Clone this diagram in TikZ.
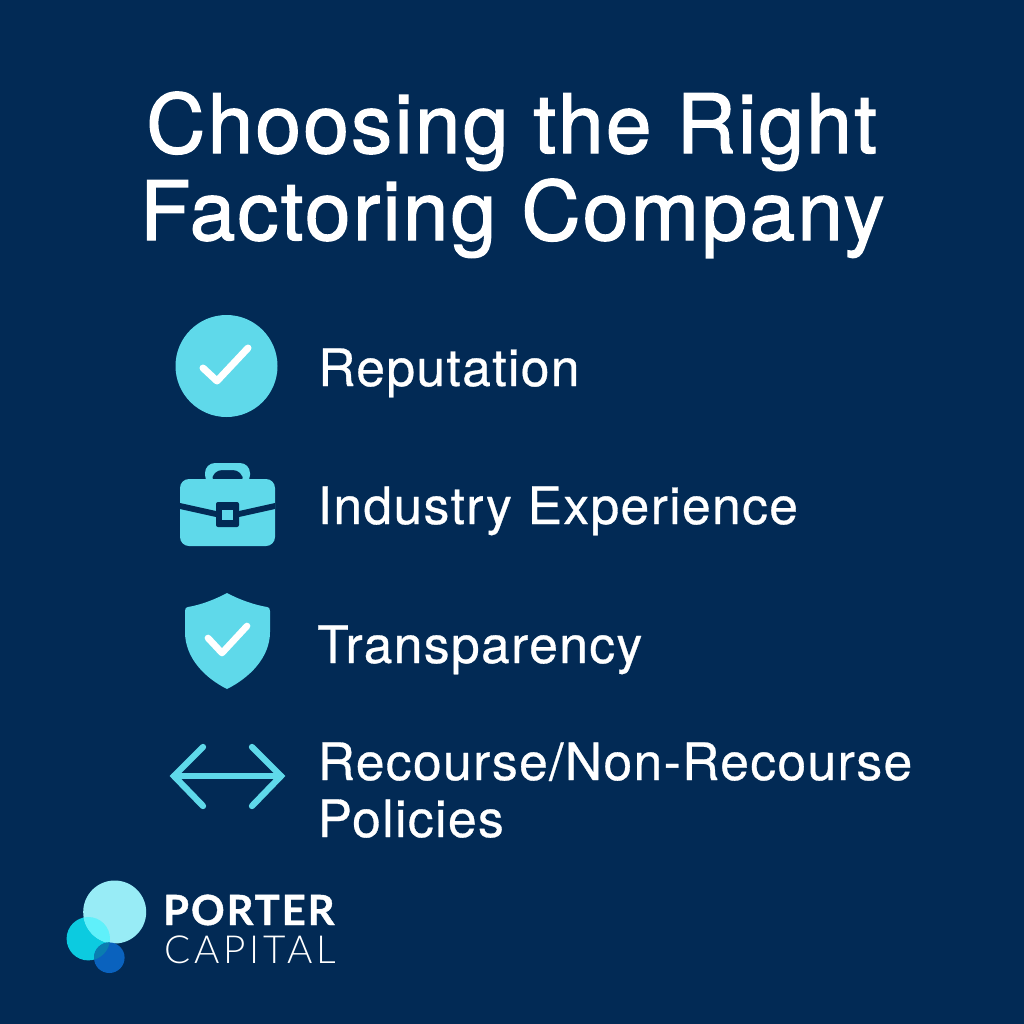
\documentclass[tikz,border=0pt]{standalone}
\usepackage{fontspec}
\setmainfont{TeX Gyre Heros}[FakeBold=1.5,LetterSpace=2.75]
\newfontfamily\itemfont{TeX Gyre Heros}[FakeBold=0.6,LetterSpace=2.7]
\newfontfamily\logolight{Lato Light}[LetterSpace=10]
\newfontfamily\logobold{Lato}[BoldFont=* Bold,BoldFeatures={FakeBold=1},LetterSpace=5]
\definecolor{bg}{HTML}{022A55}
\definecolor{ic}{HTML}{5FD9EA}
\definecolor{lgA}{HTML}{98ECF6}
\definecolor{lgB}{HTML}{0CCBE0}
\definecolor{lgC}{HTML}{0A62BE}
\definecolor{lgAB}{HTML}{5FF0FA}
\definecolor{lgBC}{HTML}{0A7DB0}
\tikzset{x=0.03cm,y=-0.03cm,
 title/.style={anchor=base west,inner sep=0,text=white,font=\fontsize{70}{70}\selectfont},
 item/.style={anchor=base west,inner sep=0,text=white,font=\itemfont\fontsize{44}{44}\selectfont},
 tick/.style={draw=white,line width=0.21cm,line cap=round,line join=round},
 arrowline/.style={draw=ic,line width=0.19cm,line cap=round,line join=miter}}
\begin{document}
\begin{tikzpicture}
\useasboundingbox (0,0) rectangle (1024,1024);
\fill[bg] (0,0) rectangle (1024,1024);
\node[title] (t1) at (146,153) {Choosing the Right};
\node[title] (t2) at (140,240) {Factoring Company};
\node[item] (i1) at (318,386) {Reputation};
\node[item] (i2) at (317.5,524) {Industry Experience};
\node[item] (i3) at (317,663) {Transparency};
\node[item] (i4) at (317.5,780) {Recourse/Non-Recourse};
\node[item] (i5) at (317.5,837) {Policies};
% check circle
\fill[ic] (226.5,366) circle (51);
\draw[tick] (203,368) -- (217,381) -- (248,348);
% briefcase
\fill[ic,even odd rule,rounded corners=0.3cm] (205,485) -- (205,463) -- (250,463) -- (250,485) -- cycle
  (212,485) -- (212,470) -- (243,470) -- (243,485) -- cycle;
\fill[ic,rounded corners=0.27cm] (180,479) rectangle (275,546);
\fill[bg] (180,503) -- (216,511) -- (239,511) -- (275,503) -- (275,509) -- (239,517) -- (216,517) -- (180,509) -- cycle;
\fill[bg,rounded corners=0.06cm] (216,502) rectangle (239,527);
\fill[ic] (222,510) rectangle (233,520);
% shield
\fill[ic] (227,593) .. controls (214,600) and (200,605) .. (188,607)
  .. controls (186,607.5) and (185,608) .. (185,611)
  -- (185,632) .. controls (185,658) and (205,678) .. (227,689)
  .. controls (249,678) and (270,658) .. (270,632) -- (270,611)
  .. controls (270,608) and (269,607.5) .. (267,607)
  .. controls (255,605) and (240,600) .. (227,593) -- cycle;
\draw[tick,line width=0.2cm] (208,638) -- (222,653) -- (247,626);
% arrow
\draw[arrowline] (203,747) -- (174,776) -- (203,806);
\draw[arrowline] (252,747) -- (281,776) -- (252,806);
\draw[arrowline] (174,776) -- (281,776);
% logo
\fill[lgB] (88.3,938.7) circle (21.7);
\fill[lgA] (114.7,912) circle (31.5);
\begin{scope}
\clip (88.3,938.7) circle (21.7);
\fill[lgAB] (114.7,912) circle (31.5);
\end{scope}
\fill[lgC] (109.3,957.7) circle (15.3);
\begin{scope}
\clip (88.3,938.7) circle (21.7);
\fill[lgBC] (109.3,957.7) circle (15.3);
\end{scope}
\node[anchor=base west,inner sep=0,text=white,font=\logobold\bfseries\fontsize{35.5}{35.5}\selectfont] (p) at (163,925) {PORTER};
\node[anchor=base west,inner sep=0,text=white,font=\logolight\fontsize{33}{33}\selectfont] (c) at (164,963) {CAPITAL};
\end{tikzpicture}
\end{document}
